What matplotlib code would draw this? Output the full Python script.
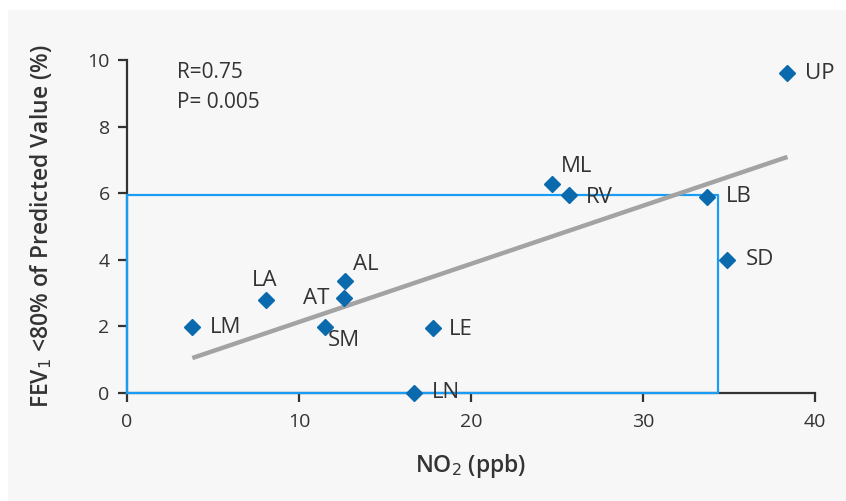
import matplotlib
matplotlib.use("Agg")
import matplotlib.pyplot as plt
from matplotlib.patches import Rectangle

# data
sites = ["UP", "ML", "RV", "LB", "SD", "LA", "AL", "AT", "LM", "SM", "LE", "LN"]
no2 = [38.4, 24.7, 25.7, 33.7, 34.9, 8.1, 12.7, 12.6, 3.8, 11.5, 17.8, 16.7]
fev1 = [9.6, 6.28, 5.95, 5.89, 4.0, 2.8, 3.36, 2.85, 1.98, 1.98, 1.95, 0.0]
fit_x = [3.8, 38.4]
fit_y = [1.05, 7.09]
box_x = [0, 34.35, 34.35, 0, 0]
box_y = [0, 0, 5.95, 5.95, 0]
stats_text = "R=0.75\nP= 0.005"

# label offsets in pixels (dx, dy, ha)
label_pos = {
    "UP": (18, 0, "left"), "ML": (9, 17, "left"), "RV": (17, -3, "left"),
    "LB": (19, 0, "left"), "SD": (19, 0, "left"), "LA": (-2, 19, "center"),
    "AL": (8, 17, "left"), "AT": (-14, 0, "right"), "LM": (18, 0, "left"),
    "SM": (3, -13, "left"), "LE": (16, -1, "left"), "LN": (18, 0, "left"),
}

plt.rcParams["font.family"] = ["Open Sans", "DejaVu Sans"]
txt = "#333333"
blue = "#0b6aae"

fig = plt.figure(figsize=(8.46, 5.01), dpi=100, facecolor="white")
bg = Rectangle((8 / 846, 0), 1, 1 - 10 / 501, transform=fig.transFigure,
               facecolor="#f7f7f7", edgecolor="none", zorder=-10)
fig.add_artist(bg)

ax = fig.add_axes([127 / 846, 1 - 393 / 501, 688 / 846, 333 / 501])
ax.set_facecolor("none")
ax.set_xlim(0, 40)
ax.set_ylim(0, 10)

for s in ["top", "right"]:
    ax.spines[s].set_visible(False)
for s in ["left", "bottom"]:
    ax.spines[s].set_color("#333333")
    ax.spines[s].set_linewidth(1.6)

ax.set_xticks([0, 10, 20, 30, 40])
ax.set_yticks([0, 2, 4, 6, 8, 10])
ax.tick_params(direction="out", length=6.5, width=1.6, color="#333333",
               labelsize=14, labelcolor=txt, pad=6)
ax.tick_params(axis="x", pad=8)

ax.plot(box_x, box_y, color="#1a9cf5", lw=1.6, clip_on=False, zorder=3)
ax.plot(fit_x, fit_y, color="#a3a3a3", lw=3.2, solid_capstyle="butt", zorder=4)
ax.plot(no2, fev1, linestyle="none", marker="D", markersize=8, color=blue,
        clip_on=False, zorder=5)

for name, x, y in zip(sites, no2, fev1):
    dx, dy, ha = label_pos[name]
    ax.annotate(name, (x, y), xytext=(dx, dy), textcoords="offset pixels",
                ha=ha, va="center", fontsize=16, color=txt, zorder=6)

ax.text(0.073, 0.994, stats_text, transform=ax.transAxes, ha="left", va="top",
        fontsize=15, color=txt, linespacing=1.55)

ax.set_xlabel("NO$_2$ (ppb)", fontsize=16.5, fontweight="semibold", color=txt, labelpad=15)
ax.set_ylabel("FEV$_1$ <80% of Predicted Value (%)", fontsize=16.5, fontweight="semibold",
              color=txt, labelpad=24)

fig.savefig("out.png", dpi=100, facecolor=fig.get_facecolor())
